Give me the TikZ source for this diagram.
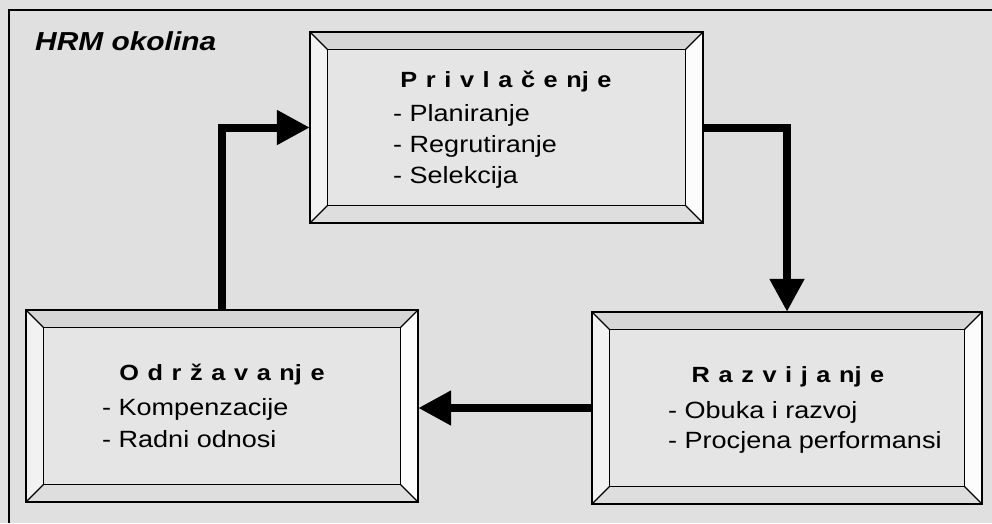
\documentclass[tikz,border=0pt]{standalone}
\usepackage{fontspec}
\setmainfont{Liberation Sans}[FakeStretch=1.15]
\usetikzlibrary{arrows.meta}
\definecolor{bgc}{gray}{0.88}
\definecolor{facec}{gray}{0.9}
\definecolor{topb}{gray}{0.84}
\definecolor{leftb}{gray}{0.95}
\definecolor{rightb}{gray}{0.99}
\definecolor{botb}{gray}{0.87}
\newcommand\gk{\kern8.6pt}
\newcommand\bevelbox[1]{%
  \fill[facec] (#1.north west) rectangle (#1.south east);
  \fill[topb] (#1.north west) -- (#1.north east) -- ([shift={(-18,18)}]#1.north east) -- ([shift={(18,18)}]#1.north west) -- cycle;
  \fill[leftb] (#1.north west) -- ([shift={(18,18)}]#1.north west) -- ([shift={(18,-18)}]#1.south west) -- (#1.south west) -- cycle;
  \fill[rightb] (#1.north east) -- ([shift={(-18,18)}]#1.north east) -- ([shift={(-18,-18)}]#1.south east) -- (#1.south east) -- cycle;
  \fill[botb] (#1.south west) -- ([shift={(18,-18)}]#1.south west) -- ([shift={(-18,-18)}]#1.south east) -- (#1.south east) -- cycle;
  \draw[line width=1.3pt] ([shift={(18,18)}]#1.north west) rectangle ([shift={(-18,-18)}]#1.south east);
  \draw[line width=1.1pt] (#1.north west) -- ([shift={(18,18)}]#1.north west)
    (#1.north east) -- ([shift={(-18,18)}]#1.north east)
    (#1.south west) -- ([shift={(18,-18)}]#1.south west)
    (#1.south east) -- ([shift={(-18,-18)}]#1.south east);
  \draw[line width=1.8pt] (#1.north west) rectangle (#1.south east);
}
\tikzset{
  box/.style={rectangle, inner sep=0pt, minimum height=191pt},
  ttl/.style={inner sep=0pt, anchor=base, font=\fontsize{22}{26}\selectfont\bfseries},
  itm/.style={inner sep=0pt, anchor=base west, font=\fontsize{23.5}{28}\selectfont},
  conn/.style={line width=8pt, line join=miter, -{Triangle[length=33pt,width=33pt]}}
}
\begin{document}
\begin{tikzpicture}[x=1pt,y=-1pt]
\useasboundingbox (0,0) rectangle (992,523);
\fill[bgc] (0,0) rectangle (992,523);
\draw[line width=1.5pt] (992,10) coordinate (fr1) -- (9,10) coordinate (fr2) -- (9,523) coordinate (fr3);
\node[inner sep=0pt, anchor=base west, font=\fontsize{26}{30}\selectfont\bfseries\itshape] (env) at (35,50) {HRM okolina};

\node[box, minimum width=393pt] (priv) at (506.5,127.5) {};
\node[box, minimum width=392pt, minimum height=192pt] (odr) at (222,406) {};
\node[box, minimum width=390pt, minimum height=192pt] (raz) at (787,408) {};
\bevelbox{priv}
\bevelbox{odr}
\bevelbox{raz}

\node[ttl] (privt) at (506,87) {P\gk r\gk i\gk v\gk l\gk a\gk č\gk e\gk nj\gk e};
\node[itm] (priv1) at (393,121) {- Planiranje};
\node[itm] (priv2) at (393,152) {- Regrutiranje};
\node[itm] (priv3) at (393,183) {- Selekcija};

\node[ttl] (odrt) at (222,380) {O\gk d\gk r\gk ž\gk a\gk v\gk a\gk nj\gk e};
\node[itm] (odr1) at (102,415) {- Kompenzacije};
\node[itm] (odr2) at (102,447) {- Radni odnosi};

\node[ttl] (razt) at (788,382) {R\gk a\gk z\gk v\gk i\gk j\gk a\gk nj\gk e};
\node[itm] (raz1) at (668,418) {- Obuka i razvoj};
\node[itm] (raz2) at (668,448) {- Procjena performansi};

\draw[conn] (odr.north) |- (priv.west);
\draw[conn] (priv.east) -| (raz.north);
\draw[conn] (raz.west) -- (raz.west -| odr.east);
\end{tikzpicture}
\end{document}
